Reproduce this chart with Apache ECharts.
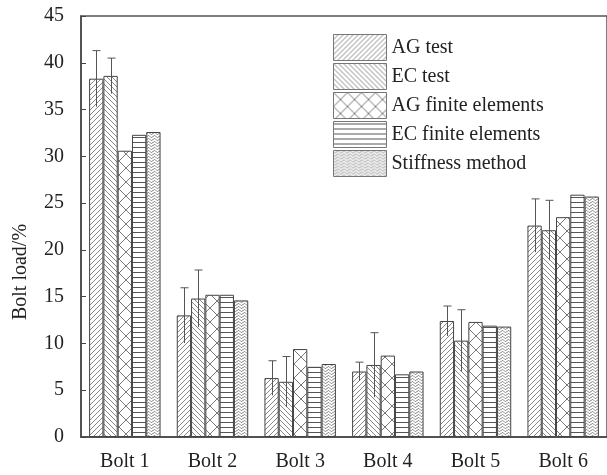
<!DOCTYPE html>
<html><head><meta charset="utf-8">
<script src="https://cdn.jsdelivr.net/npm/echarts@6/dist/echarts.min.js"></script>
<style>html,body{margin:0;padding:0;background:#fff}#c{width:607px;height:475px}</style>
</head><body><div id="c"></div>
<script>
const categories = ['Bolt 1', 'Bolt 2', 'Bolt 3', 'Bolt 4', 'Bolt 5', 'Bolt 6'];
const seriesNames = ['AG test', 'EC test', 'AG finite elements', 'EC finite elements', 'Stiffness method'];
const agTest = [38.3, 13.0, 6.3, 7.0, 12.4, 22.6];
const ecTest = [38.6, 14.8, 5.9, 7.7, 10.3, 22.1];
const agFE = [30.6, 15.2, 9.4, 8.7, 12.3, 23.5];
const ecFE = [32.3, 15.2, 7.5, 6.7, 11.9, 25.9];
const stiffness = [32.6, 14.6, 7.8, 7.0, 11.8, 25.7];
const agTestErr = [3.0, 2.95, 1.85, 1.0, 1.6, 2.85];
const ecTestErr = [1.9, 3.05, 2.7, 3.45, 3.3, 3.2];
const yMin = 0, yMax = 45, yStep = 5;

const FONT = 'Liberation Serif';
const BAR_FRAC = 0.163;

function tile(w, h, draw) {
  const c = document.createElement('canvas');
  c.width = w; c.height = h;
  const g = c.getContext('2d');
  g.fillStyle = '#fff'; g.fillRect(0, 0, w, h);
  draw(g, w, h);
  return c;
}
const patAG = tile(5, 5, (g, w, h) => {
  g.strokeStyle = '#6a6a6a'; g.lineWidth = 0.8;
  g.beginPath();
  g.moveTo(-1, h + 1); g.lineTo(w + 1, -1);
  g.moveTo(-1, 1); g.lineTo(1, -1);
  g.moveTo(w - 1, h + 1); g.lineTo(w + 1, h - 1);
  g.stroke();
});
const patEC = tile(5, 5, (g, w, h) => {
  g.strokeStyle = '#6a6a6a'; g.lineWidth = 0.8;
  g.beginPath();
  g.moveTo(-1, -1); g.lineTo(w + 1, h + 1);
  g.moveTo(w - 1, -1); g.lineTo(w + 1, 1);
  g.moveTo(-1, h - 1); g.lineTo(1, h + 1);
  g.stroke();
});
const patAGFE = tile(14, 14, (g, w, h) => {
  g.strokeStyle = '#6a6a6a'; g.lineWidth = 0.9;
  g.beginPath();
  g.moveTo(0, 0); g.lineTo(w, h);
  g.moveTo(w, 0); g.lineTo(0, h);
  g.stroke();
});
const patECFE = tile(5, 5, (g, w, h) => {
  g.strokeStyle = '#555'; g.lineWidth = 1;
  g.beginPath();
  g.moveTo(0, 2.5); g.lineTo(w, 2.5);
  g.stroke();
});
const patStiff = tile(6, 3, (g, w, h) => {
  g.strokeStyle = '#666'; g.lineWidth = 0.9;
  g.beginPath();
  for (let x = 0; x <= w; x += 0.5) {
    const y = 1.5 + 1.0 * Math.sin(x / w * 2 * Math.PI);
    if (x === 0) g.moveTo(x, y); else g.lineTo(x, y);
  }
  g.stroke();
});
const patterns = [patAG, patEC, patAGFE, patECFE, patStiff];
const values = [agTest, ecTest, agFE, ecFE, stiffness];

const barSeries = seriesNames.map((n, i) => ({
  name: n,
  type: 'bar',
  data: values[i],
  barWidth: (BAR_FRAC * 100) + '%',
  barGap: '0%',
  itemStyle: {
    color: { image: patterns[i], repeat: 'repeat' },
    borderColor: '#444',
    borderWidth: 1
  },
  emphasis: { disabled: true }
}));

function errSeries(idx, vals, errs) {
  return {
    name: 'err' + idx,
    type: 'custom',
    z: 5,
    encode: { x: 0, y: 1 },
    data: vals.map((v, k) => [k, v, errs[k]]),
    renderItem: function (params, api) {
      const x = api.value(0), v = api.value(1), e = api.value(2);
      const band = api.size([1, 0])[0];
      const w = band * BAR_FRAC;
      const off = (idx - 2) * w;
      const hi = api.coord([x, v + e]);
      const lo = api.coord([x, v - e]);
      const cx = Math.round(hi[0] + off) + 0.5;
      return {
        type: 'group',
        children: [
          { type: 'line', shape: { x1: cx, y1: hi[1], x2: cx, y2: lo[1] }, style: { stroke: '#555', lineWidth: 1 } },
          { type: 'line', shape: { x1: cx - 4, y1: hi[1], x2: cx + 4, y2: hi[1] }, style: { stroke: '#555', lineWidth: 1 } }
        ]
      };
    }
  };
}

const chart = echarts.init(document.getElementById('c'), null, { renderer: 'canvas' });
chart.setOption({
  animation: false,
  backgroundColor: '#fff',
  grid: {
    left: 81, right: -1, top: 16, bottom: 38,
    show: true, borderColor: '#555', borderWidth: 1.5, backgroundColor: 'transparent'
  },
  legend: {
    data: seriesNames,
    orient: 'vertical',
    left: 333, top: 34,
    padding: 0,
    itemWidth: 53, itemHeight: 26, itemGap: 2,
    icon: 'rect',
    itemStyle: { borderColor: '#777', borderWidth: 1 },
    textStyle: { fontFamily: FONT, fontSize: 20, color: '#222' },
    selectedMode: false
  },
  xAxis: {
    type: 'category',
    data: categories,
    axisLine: { lineStyle: { color: '#444', width: 1.5 } },
    axisTick: { show: false },
    axisLabel: { fontFamily: FONT, fontSize: 20, color: '#222', margin: 15 },
    splitLine: { show: false }
  },
  yAxis: {
    type: 'value',
    min: yMin, max: yMax, interval: yStep,
    name: 'Bolt load/%',
    nameLocation: 'middle',
    nameGap: 50,
    nameTextStyle: { fontFamily: FONT, fontSize: 20, color: '#222', padding: [0, 91, 0, 0] },
    axisLine: { show: true, lineStyle: { color: '#444', width: 1.5 } },
    axisTick: { show: true, inside: true, length: 5, lineStyle: { color: '#444' } },
    axisLabel: { fontFamily: FONT, fontSize: 20, color: '#222', margin: 17 },
    splitLine: { show: false }
  },
  series: barSeries.concat([errSeries(0, agTest, agTestErr), errSeries(1, ecTest, ecTestErr)])
});
</script></body></html>
